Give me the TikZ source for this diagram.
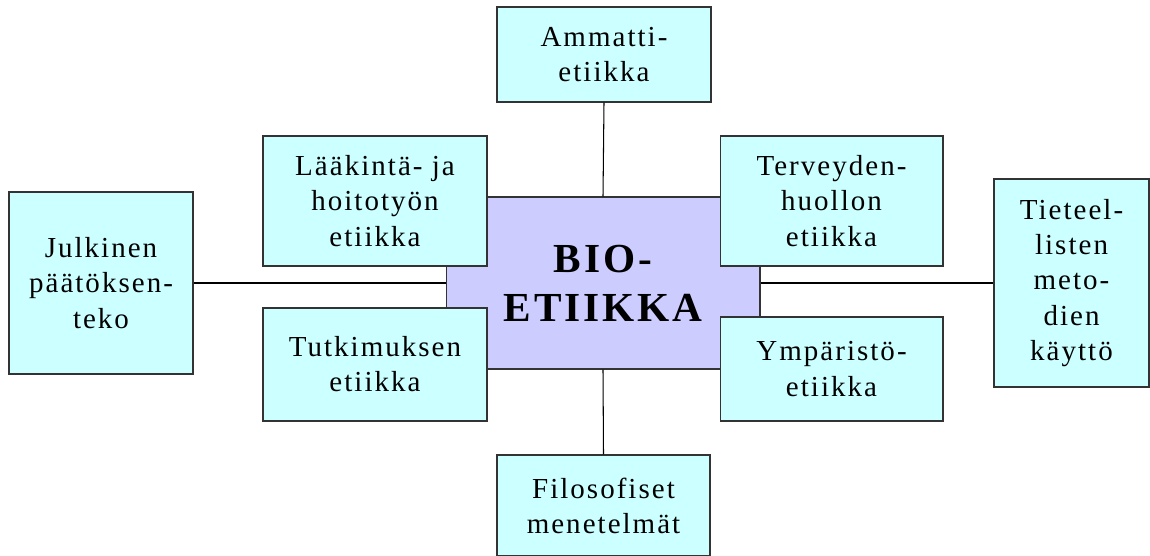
\documentclass[tikz,border=0pt]{standalone}
\usepackage{fontspec}
\setmainfont{Liberation Serif}[LetterSpace=7]
\definecolor{cyanpale}{HTML}{CCFFFF}
\definecolor{lavande}{HTML}{CCCCFF}
\begin{document}
\begin{tikzpicture}[x=0.02cm,y=-0.02cm,
  boite/.style={draw=black!80,line width=0.6pt,fill=cyanpale,align=center,inner sep=0pt,font=\fontsize{16.5}{20}\selectfont},
  centre/.style={draw=black!80,line width=0.6pt,fill=lavande,align=center,inner sep=0pt,font=\fontsize{23.5}{28}\selectfont\bfseries},
  trait/.style={black,line width=0.6pt}]
\useasboundingbox (0,0) rectangle (1150,555);

%boite centrale
\node[centre,minimum width=6.28cm,minimum height=3.44cm] (bio) at (603,283) {BIO-\\ETIIKKA};

%boites autour
\node[boite,minimum width=4.28cm,minimum height=1.9cm] (ammatti) at (604,54.5) {Ammatti-\\etiikka};
\node[boite,minimum width=4.48cm,minimum height=2.6cm] (laakinta) at (375,201) {Lääkintä- ja\\hoitotyön\\etiikka};
\node[boite,minimum width=4.46cm,minimum height=2.6cm] (terveys) at (831.5,201) {Terveyden-\\huollon\\etiikka};
\node[boite,minimum width=4.48cm,minimum height=2.26cm] (tutkimus) at (375,364.5) {Tutkimuksen\\etiikka};
\node[boite,minimum width=4.46cm,minimum height=2.08cm] (ymparisto) at (831.5,369) {Ympäristö-\\etiikka};
\node[boite,minimum width=3.68cm,minimum height=3.64cm] (julkinen) at (101,283) {Julkinen\\päätöksen-\\teko};
\node[boite,minimum width=3.1cm,minimum height=4.16cm] (tieteel) at (1071.5,283) {Tieteel-\\listen\\meto-\\dien\\käyttö};
\node[boite,minimum width=4.26cm,minimum height=2.02cm] (filosofia) at (603.5,505.5) {Filosofiset\\menetelmät};

%liaisons
\draw[trait] (ammatti.south) -- (bio.north);
\draw[trait] (bio.south) -- (filosofia.north);
\draw[trait] (julkinen.east) -- (bio.west);
\draw[trait] (bio.east) -- (tieteel.west);

\end{tikzpicture}
\end{document}
